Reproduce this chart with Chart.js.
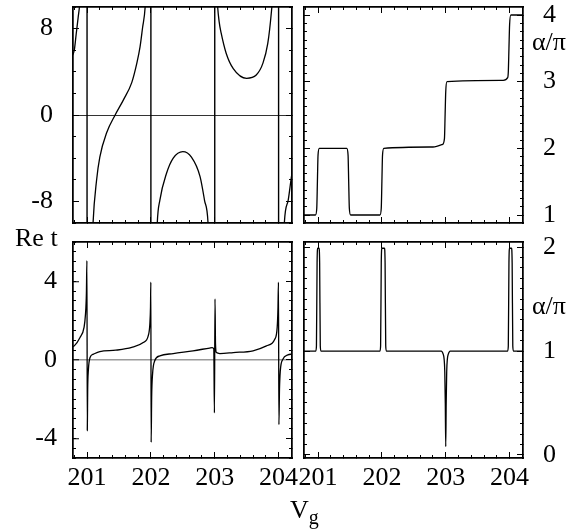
<!DOCTYPE html>
<html>
<head>
<meta charset="utf-8">
<script src="https://cdn.jsdelivr.net/npm/chart.js@4.4.0/dist/chart.umd.min.js"></script>
<style>
  body { margin: 0; background: #fff; }
  #wrap { position: relative; width: 587px; height: 529px; overflow: hidden; font-family: "Liberation Serif", "Times New Roman", serif; }
  canvas { position: absolute; left: 0; top: 0; }
  .lbl { position: absolute; font-size: 26px; line-height: 26px; color: #000; white-space: nowrap; }
  .lbl sub { font-size: 20px; line-height: 0; vertical-align: -6px; }
</style>
</head>
<body>
<div id="wrap">
  <canvas id="tl" width="587" height="529"></canvas>
  <canvas id="tr" width="587" height="529"></canvas>
  <canvas id="bl" width="587" height="529"></canvas>
  <canvas id="br" width="587" height="529"></canvas>
  <div class="lbl" style="left:15px;top:225px">Re t</div>
  <div class="lbl" style="left:532px;top:29px">α/π</div>
  <div class="lbl" style="left:532px;top:293px">α/π</div>
  <div class="lbl" style="left:290px;top:497px">V<sub>g</sub></div>
</div>
<script>
// tick labels
const xMajor = [201, 202, 203, 204];
const tlYMajor = [-8, 0, 8];
const trYMajor = [1, 2, 3, 4];
const blYMajor = [-4, 0, 4];
const brYMajor = [0, 1, 2];

// top left panel: branches between the poles
const tlPoleX = [201, 202, 203, 204];
const tlPoleY = [-40, 40];
const tlB1X = [200.76, 200.80, 200.83, 200.86, 200.89, 200.93, 200.97];
const tlB1Y = [5.4, 6.0, 7.5, 9.0, 10.6, 15, 35];
const tlB2X = [201.03, 201.06, 201.094, 201.15, 201.20, 201.31, 201.44, 201.57, 201.70, 201.78, 201.83, 201.87, 201.91, 201.95, 201.98];
const tlB2Y = [-40, -16, -10, -6.0, -3.9, -1.6, 0, 1.4, 3.0, 4.8, 6.3, 8.1, 10, 16, 40];
const tlB3X = [202.04, 202.07, 202.10, 202.14, 202.245, 202.35, 202.5, 202.635, 202.77, 202.84, 202.895, 202.93, 202.965];
const tlB3Y = [-40, -16, -10, -7.9, -5.4, -4.0, -3.4, -3.9, -5.7, -7.9, -10, -16, -40];
const tlB4X = [203.01, 203.02, 203.04, 203.07, 203.10, 203.18, 203.29, 203.5, 203.65, 203.755, 203.83, 203.885, 203.905, 203.94, 203.975];
const tlB4Y = [40, 16, 10.5, 8.6, 7.6, 5.7, 4.3, 3.4, 3.7, 4.8, 6.6, 9.4, 11, 18, 40];
const tlB5X = [204.03, 204.06, 204.09, 204.15, 204.21, 204.24];
const tlB5Y = [-40, -16, -10, -7.9, -5.4, -4.8];

// top right panel: phase steps
const phaseX = [200.76, 200.96, 200.98, 200.99, 201.0, 201.02, 201.45, 201.47, 201.48, 201.49, 201.51, 201.97, 201.99, 202.0, 202.01, 202.03, 202.8, 202.95, 202.98, 202.99, 203.0, 203.02, 203.9, 203.97, 203.98, 203.99, 204.0, 204.02, 204.24];
const phaseY = [1, 1, 1.1, 1.5, 1.9, 2, 2, 1.9, 1.5, 1.1, 1, 1, 1.1, 1.5, 1.9, 2, 2.02, 2.06, 2.15, 2.5, 2.85, 3, 3.02, 3.06, 3.15, 3.5, 3.85, 4, 4];

// bottom left panel: Re t
const reTX = [200.76, 200.8, 200.89, 200.953, 200.975, 200.99, 200.998, 201.004, 201.01, 201.02, 201.047, 201.1, 201.2, 201.45, 201.7, 201.88, 201.958, 201.984, 201.994, 201.999, 202.004, 202.012, 202.026, 202.06, 202.14, 202.35, 202.66, 202.92, 202.96, 202.985, 202.995, 203.004, 203.012, 203.026, 203.08, 203.29, 203.6, 203.81, 203.94, 203.978, 203.99, 203.998, 204.005, 204.014, 204.027, 204.067, 204.145, 204.21, 204.24];
const reTY = [0.65, 0.71, 1.14, 1.65, 2.3, 3.4, 5.05, -3.6, -1.5, -0.56, 0.12, 0.29, 0.42, 0.49, 0.63, 0.88, 1.22, 1.84, 2.7, 3.95, -4.2, -1.9, -0.73, -0.05, 0.2, 0.32, 0.46, 0.6, 0.62, 0.55, -2.7, 3.1, 0.8, 0.37, 0.32, 0.37, 0.46, 0.71, 1.05, 1.65, 2.6, 3.95, -3.3, -1.5, -0.56, 0.03, 0.25, 0.29, 0.3];

// bottom right panel: phase with narrow pulses
const pulseX = [200.76, 200.965, 200.975, 200.985, 200.995, 201.015, 201.025, 201.035, 201.045, 201.97, 201.98, 201.99, 202.0, 202.04, 202.05, 202.06, 202.07, 202.93, 202.96, 202.975, 202.985, 202.993, 203.0, 203.007, 203.015, 203.025, 203.04, 203.07, 203.97, 203.98, 203.99, 204.0, 204.03, 204.04, 204.05, 204.06, 204.24];
const pulseY = [1, 1, 1.05, 1.85, 1.99, 1.99, 1.85, 1.05, 1, 1, 1.05, 1.85, 1.99, 1.99, 1.85, 1.05, 1, 1, 0.97, 0.92, 0.8, 0.5, 0.08, 0.5, 0.8, 0.92, 0.97, 1, 1, 1.05, 1.85, 1.99, 1.99, 1.85, 1.05, 1, 1];

const tickFont = { family: "'Liberation Serif', 'Times New Roman', serif", size: 26 };
const xRange = [200.78, 204.21];

function pts(xs, ys) {
  return xs.map((x, i) => ({ x: x, y: ys[i] }));
}

function range(lo, hi, step) {
  const out = [];
  for (let k = Math.ceil(lo / step - 1e-9); k * step <= hi + 1e-9; k++) out.push(+(k * step).toFixed(4));
  return out;
}

// one axis; the labelled one sits outside the unlabelled tick-only ones
function axis(position, lim, ticks, len, opts) {
  opts = opts || {};
  const size = opts.size || 0;
  return {
    type: "linear",
    position: position,
    axis: position === "left" || position === "right" ? "y" : "x",
    weight: size ? 1 : 0,
    min: lim[0],
    max: lim[1],
    afterBuildTicks: (s) => { s.ticks = ticks.map((v) => ({ value: v })); },
    afterFit: (s) => {
      if (s.isHorizontal()) s.height = size; else s.width = size;
      s.paddingLeft = s.paddingRight = s.paddingTop = s.paddingBottom = 0;
    },
    border: { display: true, color: "#000", width: 1.5 },
    grid: {
      drawOnChartArea: !!opts.zero,
      color: (c) => (opts.zero && c.tick && c.tick.value === 0 ? opts.zero : "rgba(0,0,0,0)"),
      lineWidth: opts.zeroWidth || 1,
      tickLength: len,
      tickColor: "#000",
      tickWidth: 1,
    },
    ticks: {
      display: !!opts.labels,
      autoSkip: false,
      maxRotation: 0,
      minRotation: 0,
      padding: opts.pad || 0,
      color: "#000",
      font: tickFont,
      callback: (v) => String(v),
    },
  };
}

function buildScales(c) {
  const xs = range(xRange[0], xRange[1], 0.2);
  const ys = range(c.y[0], c.y[1], c.yStep);
  const left = c.side === "left";
  const yLab = { labels: true, pad: c.pad, size: c.ySize };
  return {
    x: axis("bottom", xRange, xs, -3),
    xMaj: axis("bottom", xRange, xMajor, -6, c.xLabels ? { labels: true, pad: 11, size: 71 } : {}),
    xTop: axis("top", xRange, xs, -3),
    xTopMaj: axis("top", xRange, xMajor, -6),
    y: axis("left", c.y, ys, -3),
    yMaj: axis("left", c.y, c.yMajor, -6, left ? Object.assign({ zero: c.zero, zeroWidth: c.zeroWidth }, yLab) : {}),
    yRight: axis("right", c.y, ys, -3),
    yRightMaj: axis("right", c.y, c.yMajor, -6, left ? {} : yLab),
  };
}

function line(data, extra) {
  return Object.assign({
    data: data,
    showLine: true,
    borderColor: "#000",
    borderWidth: 1.3,
    pointRadius: 0,
    fill: false,
    clip: 0,
    cubicInterpolationMode: "monotone",
  }, extra || {});
}

function makePanel(id, pad, cfg, datasets) {
  new Chart(document.getElementById(id), {
    type: "scatter",
    data: { datasets: datasets },
    options: {
      responsive: false,
      animation: false,
      layout: { padding: pad },
      plugins: { legend: { display: false }, tooltip: { enabled: false } },
      scales: buildScales(cfg),
    },
  });
}

// vertical lines at the poles of the top left curve
const poleData = [];
tlPoleX.forEach((x) => {
  poleData.push({ x: x, y: tlPoleY[0] }, { x: x, y: tlPoleY[1] }, { x: x, y: null });
});

makePanel("tl", { left: 0, top: 7, right: 295, bottom: 306 },
  { y: [-10, 10], yStep: 2, yMajor: tlYMajor, side: "left", pad: 26, ySize: 73, zero: "#333", zeroWidth: 1 },
  [
    line(pts(tlB1X, tlB1Y)),
    line(pts(tlB2X, tlB2Y)),
    line(pts(tlB3X, tlB3Y)),
    line(pts(tlB4X, tlB4Y)),
    line(pts(tlB5X, tlB5Y)),
    line(poleData, { cubicInterpolationMode: "default", tension: 0, borderWidth: 1.4 }),
  ]);

makePanel("tr", { left: 304, top: 7, right: 0, bottom: 306 },
  { y: [0.88, 4.12], yStep: 0.125, yMajor: trYMajor, side: "right", pad: 26, ySize: 64 },
  [line(pts(phaseX, phaseY))]);

makePanel("bl", { left: 0, top: 242, right: 295, bottom: 0 },
  { y: [-5, 6], yStep: 0.5, yMajor: blYMajor, side: "left", pad: 22, ySize: 73, zero: "#999", zeroWidth: 1.5, xLabels: true },
  [line(pts(reTX, reTY))]);

makePanel("br", { left: 304, top: 242, right: 0, bottom: 0 },
  { y: [-0.03, 2.05], yStep: 0.1, yMajor: brYMajor, side: "right", pad: 26, ySize: 64, xLabels: true },
  [line(pts(pulseX, pulseY))]);
</script>
</body>
</html>
